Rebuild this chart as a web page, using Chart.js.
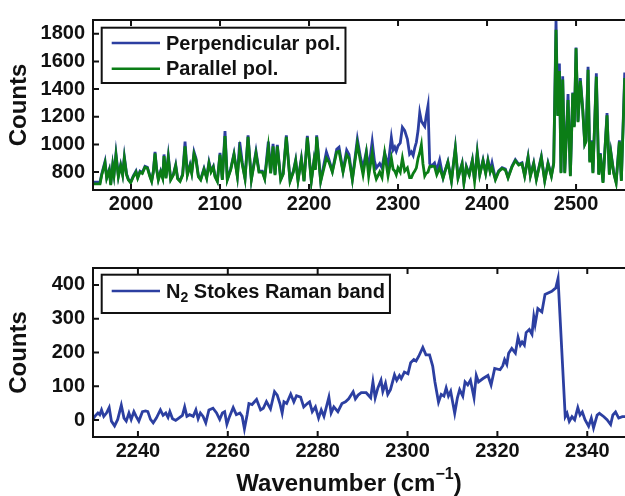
<!DOCTYPE html>
<html><head><meta charset="utf-8">
<script src="https://cdn.jsdelivr.net/npm/chart.js@4"></script>
<style>
html,body{margin:0;padding:0;background:#fff;}
#wrap{position:relative;width:625px;height:496px;overflow:hidden;background:#fff;}
.box{position:absolute;left:0;width:625px;height:248px;}
</style></head><body>
<div id="wrap">
<div class="box" style="top:0"><canvas id="c1" width="625" height="248"></canvas></div>
<div class="box" style="top:248px"><canvas id="c2" width="625" height="248"></canvas></div>
</div>
<script>
// ---------- top panel data ----------
const topWavenumbers = [
1958,1965.2,1967,1970.8,1972.7,1975.6,1977.2,1979.4,1980.9,1983.1,
1985.8,1988.4,1990.6,1992.5,1995.1,1997,1999.6,2002.6,2005.6,2007.5,
2010.1,2012.7,2015.7,2018.4,2021.3,2023.2,2025.1,2027,2028.8,2030.7,
2033.3,2035.6,2037.1,2039.3,2041.9,2044.6,2047.6,2050.2,2052.4,2055.1,
2058,2060.7,2063.3,2066.3,2068.2,2070.8,2073,2075.7,2078.3,2082,
2085,2087.6,2089.9,2092.5,2094.4,2097,2100,2102.6,2105.6,2108.2,
2112,2115.7,2119.5,2122.1,2125.1,2128.1,2131.5,2135.2,2140.4,2143.8,
2147.6,2150.2,2154.3,2156.9,2159.6,2161.8,2164.4,2168.2,2171,2174.5,
2178.7,2182.4,2185,2187.6,2191.4,2194.4,2198.1,2202.6,2205.6,2207.1,
2208.6,2213.1,2219.5,2222.5,2226.2,2231.1,2233.7,2238.2,2242.3,2244.9,
2248.7,2254.3,2258,2260.7,2264.4,2267,2271,2273.5,2275.6,2279.4,
2282,2285,2288.8,2292.5,2294.5,2296.3,2298,2300,2302.5,2304.9,
2307.5,2310.5,2313,2315,2317,2318.8,2320.6,2322.5,2324.4,2326.2,
2328,2330,2331.5,2333.7,2335.6,2337.5,2341,2343.5,2346.8,2350.6,
2353.3,2356,2360,2364.4,2367.4,2372,2374,2376.7,2380,2383.5,
2386,2389,2391.8,2395.5,2398.5,2401,2403.5,2405.6,2409.4,2413.1,
2416.9,2420.6,2423.6,2428.1,2431.8,2435.6,2439.3,2442.3,2446.1,2448.7,
2452.4,2455.4,2461,2464.8,2468.5,2472.3,2474.9,2477.5,2479.4,2481.3,
2483.1,2485,2487.3,2491,2493.6,2496.3,2498,2500,2502.2,2504.8,
2507.5,2509.8,2511.2,2513.5,2515.4,2517.2,2519,2522.8,2525.5,2527.3,
2530.3,2534.8,2537.4,2539.3,2542.3,2545,2548.7,2550.9,2554.7];
const perpendicularCounts = [
726,726,784,876,761,819,712,853,784,934,
772,853,784,911,784,749,726,772,807,761,
807,796,842,835,772,737,807,946,823,749,
807,761,927,761,918,749,784,853,756,737,
784,1020,784,853,796,946,900,772,749,826,
761,872,807,842,772,737,939,749,1096,749,
823,934,772,1017,865,756,1066,749,951,807,
807,756,1020,796,1004,784,997,749,790,1066,
737,807,888,742,900,737,1061,737,888,823,
1066,737,946,888,807,965,980,807,958,927,
749,1038,900,830,950,820,1020,880,830,861,
830,939,842,1050,960,980,950,990,1010,1124,
1100,1038,930,946,920,975,1015,1100,1230,1170,
1150,1130,1200,1280,861,842,865,810,888,760,
820,876,737,980,760,865,726,842,784,888,
737,946,784,888,795,888,807,867,751,809,
832,821,763,844,890,856,867,775,913,775,
867,751,913,740,867,775,867,1900,1214,1585,
798,1492,798,1365,775,1376,1133,1700,1168,1480,
1260,1006,1029,1561,878,1029,798,1515,786,937,
728,1226,786,937,798,728,1029,740,1520];
const parallelCounts = [
714,714,775,865,755,812,706,845,778,920,
766,845,778,900,778,743,722,766,800,755,
800,790,835,828,766,732,800,935,816,743,
800,755,915,755,905,743,778,845,750,732,
778,985,778,845,790,930,888,766,743,818,
755,862,800,835,766,732,925,743,1060,743,
816,925,766,956,850,750,1055,743,935,800,
800,750,980,790,985,778,985,743,785,1055,
732,800,880,736,890,732,1050,732,880,816,
1055,732,900,870,800,945,950,800,925,900,
743,1005,870,780,935,770,935,800,749,800,
760,934,772,900,820,807,780,830,800,900,
807,830,760,760,790,807,830,900,940,997,
860,772,790,800,840,842,840,780,830,755,
815,870,732,970,755,858,720,835,778,880,
732,935,778,880,790,880,800,830,745,803,
826,815,757,838,882,850,860,769,905,769,
860,745,905,735,860,769,860,1830,1205,1530,
792,1470,792,1320,769,1370,1125,1695,1160,1460,
1250,1000,1020,1540,870,1020,792,1490,780,930,
722,1210,780,930,792,722,1020,735,1480];
const topXTicks = [2000,2100,2200,2300,2400,2500];
const topYTicks = [800,1000,1200,1400,1600,1800];

// ---------- bottom panel data ----------
const bandWavenumbers = [
2230.0,2230.4,2231.1,2231.5,2231.9,2232.4,2233.0,2233.6,2234.1,2234.8,
2235.5,2236.3,2236.9,2237.4,2238.0,2238.5,2239.1,2239.6,2240.2,2241.0,
2241.7,2242.2,2242.8,2243.4,2244.1,2245.0,2245.6,2246.2,2246.7,2247.1,
2247.7,2248.4,2249.1,2249.9,2250.4,2250.9,2251.5,2252.3,2252.9,2253.4,
2253.9,2254.5,2255.1,2255.8,2256.7,2257.5,2258.2,2258.8,2259.3,2259.8,
2260.4,2261.2,2261.9,2262.7,2263.2,2263.7,2264.3,2264.7,2265.4,2266.4,
2267.3,2267.9,2268.6,2269.5,2270.4,2271.0,2271.6,2272.1,2272.5,2273.1,
2274.0,2274.7,2275.3,2276.2,2276.9,2277.7,2278.2,2278.8,2279.5,2280.2,
2280.8,2281.4,2282.5,2283.0,2283.6,2284.5,2285.4,2286.2,2286.9,2287.9,
2288.4,2289.0,2289.7,2290.8,2291.8,2292.3,2292.8,2293.4,2294.1,2294.5,
2295.1,2295.6,2296.2,2297.1,2297.6,2298.2,2298.6,2299.3,2300.1,2300.7,
2301.4,2301.9,2302.5,2303.4,2304.1,2304.9,2305.6,2306.1,2306.9,2307.5,
2308.1,2308.6,2309.1,2309.6,2310.5,2311.1,2311.6,2312.3,2312.8,2313.4,
2314.0,2314.8,2315.3,2315.8,2316.8,2317.9,2318.6,2319.4,2320.6,2321.2,
2321.6,2322.1,2322.5,2323.2,2324.0,2324.6,2325.1,2325.5,2326.0,2326.4,
2327.1,2327.7,2328.1,2328.4,2329.0,2329.9,2330.6,2332.1,2333.0,2333.5,
2335.1,2335.5,2336.0,2336.6,2337.2,2337.9,2338.4,2338.9,2339.5,2340.3,
2340.9,2341.4,2342.2,2342.7,2343.7,2344.4,2345.2,2345.7,2346.3,2347.0,
2347.8,2348.5];
const bandCounts = [
2,11,21,16,30,11,21,37,-3,-17,
2,44,6,-3,21,2,25,11,-3,25,
27,25,2,-8,6,30,14,21,8,25,
4,-1,6,14,39,11,16,11,30,4,
21,11,-8,30,35,21,2,21,25,-12,
11,37,16,21,11,-26,16,49,46,61,
30,35,55,33,84,74,49,21,54,49,
77,54,72,68,39,49,54,25,39,6,
30,11,68,21,39,25,49,54,63,84,
63,74,81,81,66,113,66,95,118,85,
109,76,90,134,118,132,123,142,137,170,
179,175,189,215,193,193,160,113,53,76,
71,95,71,85,20,66,90,71,113,104,
118,66,132,113,123,132,104,153,149,161,
179,165,198,212,198,245,222,231,222,259,
268,254,306,283,330,320,372,381,391,419,
10,20,-4,10,1,37,15,24,1,-18,
6,-23,15,20,10,1,-13,15,24,6,
10,10];
const bandXTicks = [2240,2260,2280,2300,2320,2340];
const bandYTicks = [0,100,200,300,400];

// ---------- styling ----------
const FONT = '"Liberation Sans", Arial, Helvetica, sans-serif';
const INK = '#111';
const BLUE = '#2c3fa1';
const GREEN = '#0b7d16';
const TICK_FONT = {family: FONT, size: 20, weight: 'bold'};
const TITLE_SIZE = 24;
const TRACE_WIDTH = 2.8;

function pts(xs, ys) { return xs.map((x, i) => ({x: x, y: ys[i]})); }

function drawParts(ctx, parts, x, y, size, measureOnly) {
  let cx = x;
  parts.forEach(p => {
    const s = (p.sub || p.sup) ? Math.round(size * 0.68) : size;
    ctx.font = 'bold ' + s + 'px ' + FONT;
    const dy = p.sub ? size * 0.32 : (p.sup ? -size * 0.38 : 0);
    if (!measureOnly) ctx.fillText(p.t, cx, y + dy);
    cx += ctx.measureText(p.t).width;
  });
  return cx - x;
}

const framePlugin = {
  id: 'matlabFrame',
  afterDraw(chart, args, opts) {
    const {ctx, chartArea: a, scales} = chart;
    ctx.save();
    ctx.strokeStyle = INK;
    ctx.lineWidth = 2;
    ctx.beginPath();
    ctx.moveTo(a.left - 1, a.top); ctx.lineTo(chart.width, a.top);
    ctx.moveTo(a.left, a.top); ctx.lineTo(a.left, a.bottom);
    ctx.moveTo(a.left - 1, a.bottom); ctx.lineTo(chart.width, a.bottom);
    ctx.stroke();
    ctx.beginPath();
    scales.x.ticks.forEach(t => {
      const p = scales.x.getPixelForValue(t.value);
      ctx.moveTo(p, a.bottom); ctx.lineTo(p, a.bottom - 6);
      ctx.moveTo(p, a.top); ctx.lineTo(p, a.top + 6);
    });
    scales.y.ticks.forEach(t => {
      const p = scales.y.getPixelForValue(t.value);
      ctx.moveTo(a.left, p); ctx.lineTo(a.left + 6, p);
    });
    ctx.stroke();

    // legend box inside the axes
    const L = opts.legend;
    if (L) {
      ctx.textBaseline = 'middle';
      ctx.textAlign = 'left';
      let maxW = 0;
      L.rows.forEach(r => { maxW = Math.max(maxW, drawParts(ctx, r.parts, 0, 0, 20, true)); });
      const bx = a.left + 8.7, by = a.top + L.top;
      const textX = a.left + 73;
      const bw = textX + maxW + 5 - bx;
      ctx.fillStyle = '#fff';
      ctx.fillRect(bx, by, bw, L.height);
      ctx.lineWidth = 2;
      ctx.strokeStyle = INK;
      ctx.strokeRect(bx, by, bw, L.height);
      L.rows.forEach((r, i) => {
        const ry = a.top + L.firstRow + i * L.gap;
        ctx.strokeStyle = r.color;
        ctx.lineWidth = 2.5;
        ctx.beginPath();
        ctx.moveTo(a.left + 18.7, ry); ctx.lineTo(a.left + 67, ry);
        ctx.stroke();
        ctx.fillStyle = INK;
        drawParts(ctx, r.parts, textX, ry + 1, 20, false);
      });
    }
    // x-axis title with superscript
    const T = opts.xTitle;
    if (T) {
      ctx.textBaseline = 'middle';
      ctx.textAlign = 'left';
      ctx.fillStyle = INK;
      const w = drawParts(ctx, T.parts, 0, 0, TITLE_SIZE, true);
      drawParts(ctx, T.parts, a.left + T.center - w / 2, T.y, TITLE_SIZE, false);
    }
    ctx.restore();
  }
};

function makeOptions(cfg) {
  return {
    responsive: false,
    animation: false,
    events: [],
    layout: {padding: {top: cfg.padTop, right: 0, left: 0, bottom: 0}},
    plugins: {
      legend: {display: false},
      tooltip: {enabled: false},
      matlabFrame: {legend: cfg.legend, xTitle: cfg.xTitle}
    },
    scales: {
      x: {
        type: 'linear', min: cfg.xMin, max: cfg.xMax,
        afterBuildTicks: s => { s.ticks = cfg.xTicks.map(v => ({value: v})); },
        afterFit: s => { s.height = cfg.xAxisHeight; },
        grid: {display: false, drawTicks: false},
        border: {display: false},
        ticks: {font: TICK_FONT, color: INK, padding: 2, maxRotation: 0, autoSkip: false,
                callback: v => String(v)}
      },
      y: {
        type: 'linear', min: cfg.yMin, max: cfg.yMax,
        afterBuildTicks: s => { s.ticks = cfg.yTicks.map(v => ({value: v})); },
        afterFit: s => { s.width = 93; },
        grid: {display: false, drawTicks: false},
        border: {display: false},
        ticks: {font: TICK_FONT, color: INK, padding: 8, autoSkip: false,
                callback: v => String(v)},
        title: {display: true, text: 'Counts', color: INK,
                font: {family: FONT, size: TITLE_SIZE, weight: 'bold', lineHeight: 1.2},
                padding: {top: 5, bottom: 0}}
      }
    }
  };
}

new Chart(document.getElementById('c1'), {
  type: 'line',
  data: {
    datasets: [
      {label: 'Perpendicular pol.', data: pts(topWavenumbers, perpendicularCounts),
       borderColor: BLUE, borderWidth: TRACE_WIDTH, pointRadius: 0, tension: 0, order: 2},
      {label: 'Parallel pol.', data: pts(topWavenumbers, parallelCounts),
       borderColor: GREEN, borderWidth: TRACE_WIDTH, pointRadius: 0, tension: 0, order: 1}
    ]
  },
  options: makeOptions({
    padTop: 13, xAxisHeight: 58,
    xMin: 1957.3, xMax: 2555, yMin: 670, yMax: 1900,
    xTicks: topXTicks, yTicks: topYTicks,
    legend: {top: 7.7, height: 55.3, firstRow: 23, gap: 25.7,
      rows: [{color: BLUE, parts: [{t: 'Perpendicular pol.'}]},
             {color: GREEN, parts: [{t: 'Parallel pol.'}]}]}
  }),
  plugins: [framePlugin]
});

new Chart(document.getElementById('c2'), {
  type: 'line',
  data: {
    datasets: [
      {label: 'N₂ Stokes Raman band', data: pts(bandWavenumbers, bandCounts),
       borderColor: BLUE, borderWidth: TRACE_WIDTH, pointRadius: 0, tension: 0}
    ]
  },
  options: makeOptions({
    padTop: 12, xAxisHeight: 59,
    xMin: 2230, xMax: 2348.4, yMin: -50, yMax: 450,
    xTicks: bandXTicks, yTicks: bandYTicks,
    legend: {top: 6.7, height: 38.3, firstRow: 23, gap: 0,
      rows: [{color: BLUE, parts: [{t: 'N'}, {t: '2', sub: true}, {t: ' Stokes Raman band'}]}]},
    xTitle: {center: 256, y: 236,
      parts: [{t: 'Wavenumber (cm'}, {t: '−1', sup: true}, {t: ')'}]}
  }),
  plugins: [framePlugin]
});
</script>
</body></html>
